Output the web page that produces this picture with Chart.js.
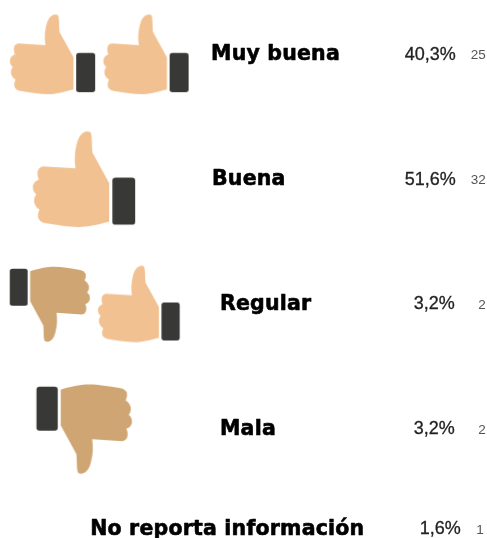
<!DOCTYPE html>
<html>
<head>
<meta charset="utf-8">
<title>Calificación</title>
<script src="https://cdn.jsdelivr.net/npm/chart.js@4"></script>
<style>
  html, body { margin: 0; padding: 0; background: #ffffff; }
  canvas { display: block; }
</style>
</head>
<body>
<canvas id="chartCalificacion" width="487" height="538"></canvas>
<script>
// DATOS
var categorias = ['Muy buena', 'Buena', 'Regular', 'Mala', 'No reporta información'];
var porcentajes = [40.3, 51.6, 3.2, 3.2, 1.6];
var conteos = [25, 32, 2, 2, 1];

// iconos de cada fila: fila, arriba (1) o abajo (0)
var iconoFila = [0, 0, 1, 2, 2, 3];
var iconoArriba = [1, 1, 1, 0, 1, 0];

// DISPOSICION (no son datos)
var posFila = [0, 1, 2, 3, 3.8];
var iconoX = [52.5, 146, 84, 49.5, 139, 83.5];
var iconoEscala = [1, 1, 1.2, 0.94, 0.96, 1.12];
var etiquetaX = [211, 212, 220, 220, 90];
var porcentajeX = [456, 456, 455, 455, 461];
var conteoX = [486, 486, 486, 486, 484];

// dibuja una mano en un canvas aparte, para usarla como pointStyle
function crearIcono(escala, arriba) {
    var margen = 3;
    var s = escala / 3;
    var c = document.createElement('canvas');
    c.width = Math.ceil(255 * s) + margen * 2;
    c.height = Math.ceil(240 * s) + margen * 2;
    var g = c.getContext('2d');
    g.filter = 'blur(0.4px)';
    if (!arriba) {
        g.translate(c.width, c.height);
        g.rotate(Math.PI);
    }
    g.translate(margen, margen);
    g.scale(s, s);
    g.translate(-30, -42);

    g.fillStyle = arriba ? '#f2c191' : '#cfa673';
    g.beginPath();
    g.moveTo(220, 172);
    g.lineTo(178, 95);
    g.bezierCurveTo(176, 70, 178, 48, 172, 44);
    g.bezierCurveTo(160, 38, 145, 50, 140, 70);
    g.bezierCurveTo(133, 95, 133, 115, 136, 135);
    g.lineTo(55, 130);
    g.quadraticCurveTo(42, 132, 41, 145);
    g.quadraticCurveTo(40, 155, 44, 163);
    g.quadraticCurveTo(30, 168, 29, 182);
    g.quadraticCurveTo(30, 195, 38, 200);
    g.quadraticCurveTo(30, 210, 33, 222);
    g.quadraticCurveTo(38, 235, 46, 238);
    g.quadraticCurveTo(40, 250, 43, 260);
    g.quadraticCurveTo(48, 270, 60, 272);
    g.bezierCurveTo(100, 278, 130, 284, 160, 281);
    g.bezierCurveTo(185, 278, 205, 272, 220, 268);
    g.closePath();
    g.fill();

    g.fillStyle = '#383836';
    g.beginPath();
    g.roundRect(228, 158, 57, 118, 8);
    g.fill();
    return c;
}

var iconos = iconoFila.map(function (f, i) {
    return crearIcono(iconoEscala[i], iconoArriba[i] === 1);
});

function formatoPct(v) {
    return v.toFixed(1).replace('.', ',') + '%';
}

// textos de cada fila, colocados con las escalas del grafico
var pluginTextos = {
    id: 'textos',
    afterDatasetsDraw: function (chart) {
        var ctx = chart.ctx;
        var x = chart.scales.x;
        var y = chart.scales.y;
        ctx.save();
        ctx.textBaseline = 'middle';
        ctx.filter = 'blur(0.3px)';
        ctx.lineJoin = 'round';
        categorias.forEach(function (cat, i) {
            var py = y.getPixelForValue(posFila[i]);
            var tx = x.getPixelForValue(etiquetaX[i]);
            ctx.textAlign = 'left';
            ctx.fillStyle = '#000000';
            ctx.strokeStyle = '#000000';
            ctx.lineWidth = 0.6;
            ctx.letterSpacing = '0.2px';
            ctx.font = 'bold 20.5px "DejaVu Sans"';
            ctx.fillText(cat, tx, py + 0.5);
            ctx.strokeText(cat, tx, py + 0.5);
            ctx.letterSpacing = '0px';

            var pct = formatoPct(porcentajes[i]);
            var px = x.getPixelForValue(porcentajeX[i]);
            ctx.textAlign = 'right';
            ctx.fillStyle = '#222222';
            ctx.strokeStyle = '#222222';
            ctx.lineWidth = 0.3;
            ctx.font = '18px "Liberation Sans"';
            ctx.fillText(pct, px, py + 0.5);
            ctx.strokeText(pct, px, py + 0.5);

            ctx.fillStyle = '#555555';
            ctx.font = '13.5px "Liberation Sans"';
            ctx.fillText(String(conteos[i]), x.getPixelForValue(conteoX[i]), py + 1);
        });
        ctx.restore();
    }
};

new Chart(document.getElementById('chartCalificacion'), {
    type: 'scatter',
    data: {
        datasets: [{
            label: 'Iconos',
            data: iconoFila.map(function (f, i) {
                return { x: iconoX[i], y: posFila[f] };
            }),
            pointStyle: function (c) { return iconos[c.dataIndex]; },
            pointRadius: 0.2,
            pointHoverRadius: 0,
            pointBorderWidth: 0,
            pointHoverBorderWidth: 0,
            pointHitRadius: 0,
            borderWidth: 0,
            clip: false
        }]
    },
    options: {
        responsive: false,
        animation: false,
        events: [],
        layout: { padding: 0 },
        plugins: {
            legend: { display: false },
            tooltip: { enabled: false }
        },
        scales: {
            x: { type: 'linear', display: false, min: 0, max: 487 },
            y: { type: 'linear', display: false, reverse: true, min: -0.432, max: 3.872 }
        }
    },
    plugins: [pluginTextos]
});
</script>
</body>
</html>
